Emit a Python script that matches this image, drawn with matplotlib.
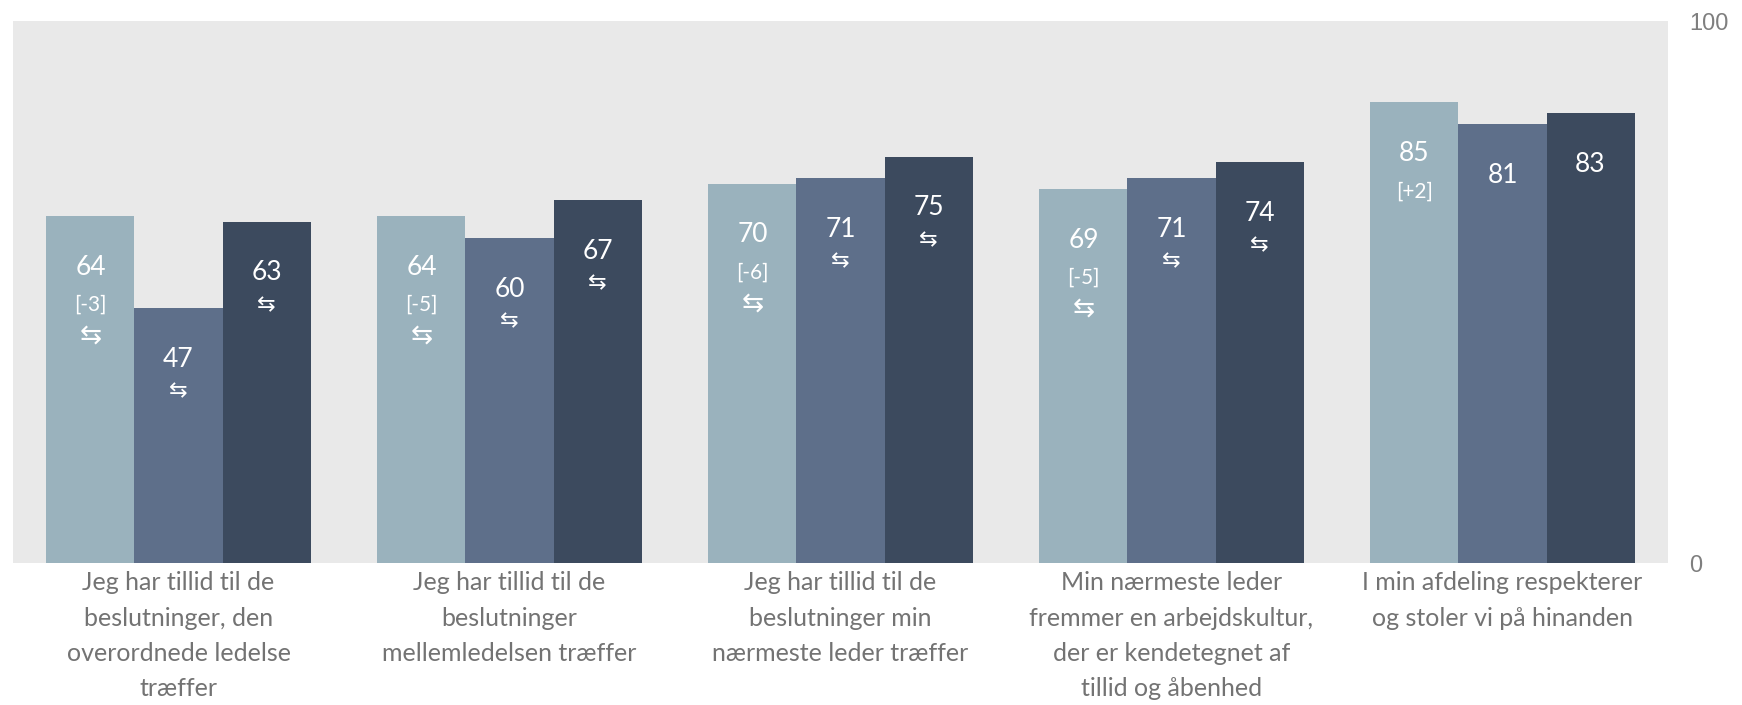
import numpy as np
import matplotlib.pyplot as plt
from matplotlib import font_manager

# categories and values
categories = [
    "Jeg har tillid til de\nbeslutninger, den\noverordnede ledelse\ntræffer",
    "Jeg har tillid til de\nbeslutninger\nmellemledelsen træffer",
    "Jeg har tillid til de\nbeslutninger min\nnærmeste leder træffer",
    "Min nærmeste leder\nfremmer en arbejdskultur,\nder er kendetegnet af\ntillid og åbenhed",
    "I min afdeling respekterer\nog stoler vi på hinanden",
]
series_a = [64, 64, 70, 69, 85]
series_b = [47, 60, 71, 71, 81]
series_c = [63, 67, 75, 74, 83]
changes_a = ["[-3]", "[-5]", "[-6]", "[-5]", "[+2]"]
arrows_a = [True, True, True, True, False]
arrows_b = [True, True, True, True, False]
arrows_c = [True, True, True, True, False]
yticks = [0, 100]

colors = ['#9AB2BD', '#5E6F8A', '#3C4A5E']

# pick a narrow font if one is installed
names = {f.name for f in font_manager.fontManager.ttflist}
main_font = 'Lato'
for cand in ['Liberation Sans Narrow', 'DejaVu Sans Condensed', 'Lato']:
    if cand in names:
        main_font = cand
        break
fam = [main_font, 'DejaVu Sans']

fig = plt.figure(figsize=(17.42, 7.05), dpi=100)
ax = fig.add_axes([13 / 1742, 1 - 563 / 705, (1668 - 13) / 1742, (563 - 21) / 705])
ax.set_facecolor('#E9E9E9')

x = np.arange(len(categories))
w = 0.266
all_series = [series_a, series_b, series_c]
all_arrows = [arrows_a, arrows_b, arrows_c]
for i, (vals, col) in enumerate(zip(all_series, colors)):
    ax.bar(x + (i - 1) * w, vals, width=w, color=col, zorder=2)

for i, vals in enumerate(all_series):
    for j, v in enumerate(vals):
        xx = x[j] + (i - 1) * w
        off = 37
        ax.annotate(str(v), xy=(xx, v), xytext=(0, -off), textcoords='offset points',
                    ha='center', va='center', color='white', fontsize=19, family=fam)
        if i == 0:
            off += 27
            ax.annotate(changes_a[j], xy=(xx, v), xytext=(0, -off), textcoords='offset points',
                        ha='center', va='center', color='white', fontsize=15, family=fam)
        if all_arrows[i][j]:
            off += 23
            ax.annotate('\u21c6', xy=(xx, v), xytext=(0, -off), textcoords='offset points',
                        ha='center', va='center', color='white',
                        fontsize=19 if i == 0 else 16, family=['DejaVu Sans'])

ax.set_xlim(-0.5, len(categories) - 0.5)
ax.set_ylim(0, 100)
ax.set_xticks(x)
ax.set_xticklabels(categories, fontsize=18, color='#737373', family=fam, linespacing=1.65, va='top')
ax.tick_params(axis='x', length=0, pad=6)
ax.yaxis.tick_right()
ax.set_yticks(yticks)
ax.set_yticklabels([str(t) for t in yticks], fontsize=17, color='#7f7f7f', family='Liberation Sans')
ax.tick_params(axis='y', length=0, pad=15)
for s in ax.spines.values():
    s.set_visible(False)

fig.savefig('out.png', dpi=100)
